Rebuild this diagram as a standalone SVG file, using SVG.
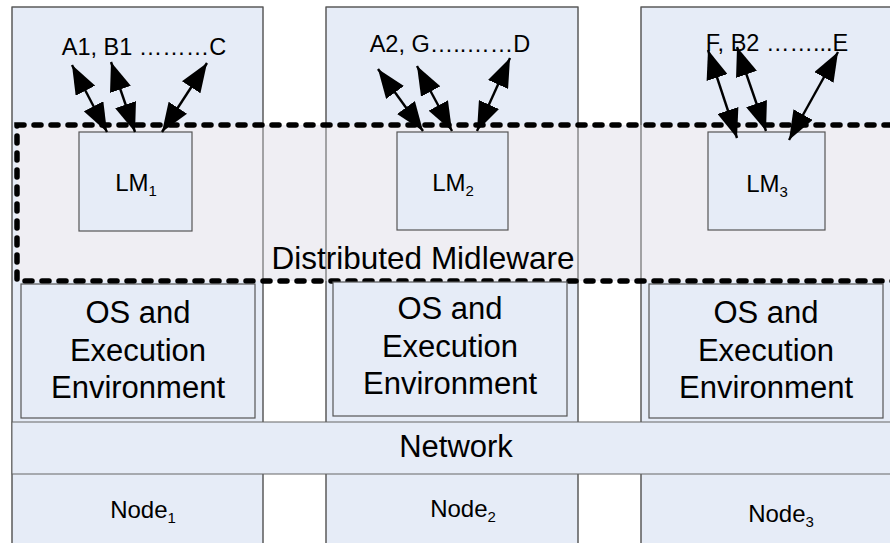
<svg xmlns="http://www.w3.org/2000/svg" width="890" height="543" viewBox="0 0 890 543">
<style>
.col{fill:#E6ECF7;stroke:#666;stroke-width:1}
.colline{fill:none;stroke:#555;stroke-width:1}
.box{fill:#E6ECF7;stroke:#555;stroke-width:1.2}
.mw{fill:#EFEEF3;stroke:none}
.dash{fill:none;stroke:#000;stroke-width:5.5;stroke-dasharray:7 10;stroke-linecap:round}
text{font-family:"Liberation Sans",Arial,sans-serif;fill:#000}
.big{font-size:31px;text-anchor:middle}
.lab{font-size:23.5px;text-anchor:middle}
.lm{font-size:24px;text-anchor:middle}
.node{font-size:24px;text-anchor:middle}
.sub{font-size:15px}
.arr{stroke:#000;stroke-width:2.4;fill:none;marker-start:url(#ah);marker-end:url(#ah)}
</style>
<defs>
<marker id="ah" markerUnits="userSpaceOnUse" markerWidth="30" markerHeight="22" refX="29" refY="11" orient="auto-start-reverse" viewBox="0 0 30 22">
<path d="M0,0 L29,11 L0,22 z" fill="#000"/>
</marker>
</defs>
<rect width="890" height="543" fill="#fff"/>
<g id="columns">
<rect class="col" x="12" y="7" width="251" height="545"/>
<rect class="col" x="326" y="7" width="252" height="545"/>
<rect class="col" x="641" y="7" width="260" height="545"/>
</g>
<g id="middleware">
<rect class="mw" x="17" y="125" width="890" height="156"/>
<rect class="colline" x="12" y="7" width="251" height="545"/>
<rect class="colline" x="326" y="7" width="252" height="545"/>
<rect class="colline" x="641" y="7" width="260" height="545"/>
<rect class="dash" x="17" y="125" width="890" height="156"/>
<text x="423" y="269" font-size="31.5px" text-anchor="middle">Distributed Midleware</text>
</g>
<g id="network">
<rect class="col" x="12" y="422" width="890" height="52"/>
<text class="big" x="456" y="457">Network</text>
</g>
<g id="os1"><rect class="box" x="21" y="284" width="234" height="134"/>
<text class="big" x="138" y="323">OS and</text><text class="big" x="138" y="361">Execution</text><text class="big" x="138" y="398">Environment</text></g>
<g id="os2"><rect class="box" x="333" y="282" width="234" height="134"/>
<text class="big" x="450" y="319">OS and</text><text class="big" x="450" y="357">Execution</text><text class="big" x="450" y="394">Environment</text></g>
<g id="os3"><rect class="box" x="649" y="284" width="234" height="134"/>
<text class="big" x="766" y="323">OS and</text><text class="big" x="766" y="361">Execution</text><text class="big" x="766" y="398">Environment</text></g>
<g id="lm1"><rect class="box" x="79" y="132" width="113" height="99"/>
<text class="lm" x="136" y="191">LM<tspan class="sub" dy="5">1</tspan></text></g>
<g id="lm2"><rect class="box" x="397" y="132" width="111" height="98"/>
<text class="lm" x="453" y="191">LM<tspan class="sub" dy="5">2</tspan></text></g>
<g id="lm3"><rect class="box" x="708" y="132" width="117" height="98"/>
<text class="lm" x="767" y="192">LM<tspan class="sub" dy="5">3</tspan></text></g>
<g id="apps1"><text class="lab" x="144" y="55">A1, B1 ………C</text></g>
<g id="apps2"><text class="lab" x="450" y="52">A2, G…..……D</text></g>
<g id="apps3"><text class="lab" x="777" y="51">F, B2 ……...E</text></g>
<g id="node1"><text class="node" x="143" y="518">Node<tspan class="sub" dy="5">1</tspan></text></g>
<g id="node2"><text class="node" x="463" y="517">Node<tspan class="sub" dy="5">2</tspan></text></g>
<g id="node3"><text class="node" x="781" y="522">Node<tspan class="sub" dy="5">3</tspan></text></g>
<g id="connectors">
<line class="arr" x1="72" y1="65" x2="107" y2="132"/>
<line class="arr" x1="111" y1="62" x2="135" y2="132"/>
<line class="arr" x1="207" y1="63" x2="162" y2="132"/>
<line class="arr" x1="378" y1="69" x2="423" y2="131"/>
<line class="arr" x1="417" y1="66" x2="452" y2="131"/>
<line class="arr" x1="510" y1="58" x2="477" y2="131"/>
<line class="arr" x1="708" y1="50" x2="737" y2="138"/>
<line class="arr" x1="737" y1="47" x2="766" y2="131"/>
<line class="arr" x1="838" y1="52" x2="789" y2="140"/>
</g>
</svg>
